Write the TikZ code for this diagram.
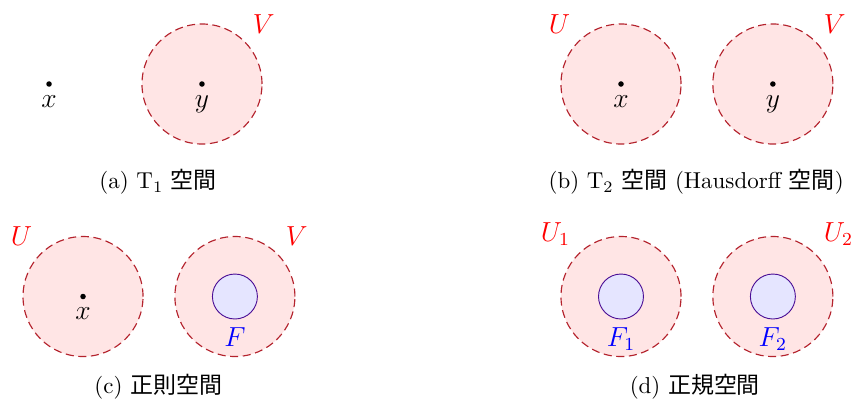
\documentclass[tikz,border=0pt]{standalone}
\usepackage{fontspec}
\newfontfamily\cjk{Noto Sans CJK JP}
\usetikzlibrary{positioning}
\definecolor{opendraw}{RGB}{180,35,45}
\definecolor{closeddraw}{RGB}{75,15,150}
\tikzset{openset/.style={draw=opendraw,dash pattern=on 3.5pt off 2pt,line width=0.5pt,fill=red!10,circle,minimum size=1.836cm,inner sep=0pt}}
\tikzset{closedset/.style={draw=closeddraw,fill=blue!10,circle,minimum size=0.688cm,inner sep=0pt}}
\tikzset{pt/.style={fill,circle,minimum size=2.4pt,inner sep=0pt}}
\tikzset{caption/.style={font=\normalsize}}
\begin{document}
\begin{tikzpicture}[font=\large, node distance=0.47cm]
\useasboundingbox (0,0) rectangle (13.08,-6.2);
\node[pt, label=below:$x$] (xa) at (0.75,-1.285) {};
\node[openset, label={[red]45:$V$}] (Va) at (3.09,-1.285) {};
\node[pt, label=below:$y$] (ya) at (Va) {};
\node[caption] (capa) at (2.42,-2.785) {(a) T$_1$ {\cjk 空間}};
\node[openset, label={[red]135:$U$}] (Ub) at (9.50,-1.285) {};
\node[openset, label={[red]45:$V$}] (Vb) [right=of Ub] {};
\node[pt, label=below:$x$] (xb) at (Ub) {};
\node[pt, label=below:$y$] (yb) at (Vb) {};
\node[caption] (capb) at (10.65,-2.785) {(b) T$_2$ {\cjk 空間} (Hausdorff {\cjk 空間})};
\node[openset, label={[red]135:$U$}] (Uc) at (1.27,-4.536) {};
\node[openset, label={[red]45:$V$}] (Vc) [right=of Uc] {};
\node[pt, label=below:$x$] (xc) at (Uc) {};
\node[closedset, label={[blue]below:$F$}] (Fc) at (Vc) {};
\node[caption] (capc) at (2.42,-5.92) {(c) {\cjk 正則空間}};
\node[openset, label={[red]135:$U_1$}] (U1) at (9.50,-4.536) {};
\node[openset, label={[red]45:$U_2$}] (U2) [right=of U1] {};
\node[closedset, label={[blue]below:$F_1$}] (F1) at (U1) {};
\node[closedset, label={[blue]below:$F_2$}] (F2) at (U2) {};
\node[caption] (capd) at (10.63,-5.92) {(d) {\cjk 正規空間}};
\end{tikzpicture}
\end{document}
